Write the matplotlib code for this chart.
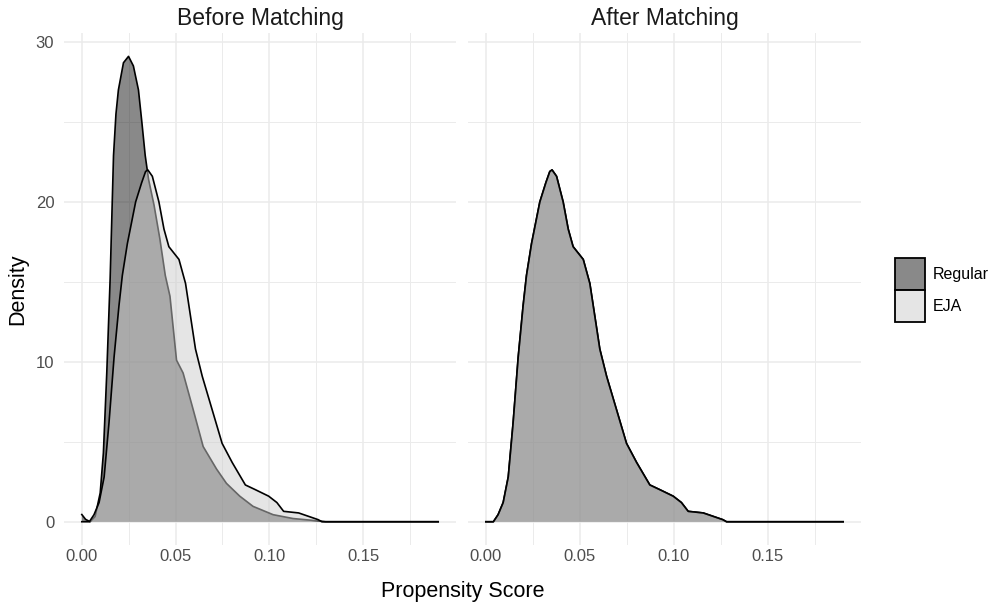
import matplotlib
matplotlib.use("Agg")
import matplotlib.pyplot as plt
from matplotlib.patches import Patch
from matplotlib.colors import to_rgba
from matplotlib.ticker import MultipleLocator

plt.rcParams['font.family'] = ['Liberation Sans', 'DejaVu Sans']

# ---- data ----
facets = ["Before Matching", "After Matching"]
groups = ["Regular", "EJA"]

before_regular_x = [0.000, 0.002, 0.0044, 0.0071, 0.0098, 0.0115, 0.0133, 0.0151, 0.0169, 0.0182,
                    0.0195, 0.0222, 0.0249, 0.0275, 0.0302, 0.0320, 0.0338, 0.0356, 0.0385, 0.0416,
                    0.0445, 0.0470, 0.0505, 0.0540, 0.0594, 0.0647, 0.0718, 0.0771, 0.0842, 0.0913,
                    0.1020, 0.1126, 0.1235, 0.1300, 0.1900]
before_regular_y = [0.45, 0.15, 0.0, 0.33, 1.8, 4.3, 9.3, 15.2, 22.9, 25.5,
                    27.0, 28.7, 29.1, 28.5, 27.0, 25.0, 22.9, 21.4, 19.8, 17.7,
                    15.4, 14.1, 10.1, 9.3, 7.0, 4.7, 3.3, 2.4, 1.6, 0.96,
                    0.44, 0.2, 0.08, 0.0, 0.0]

before_eja_x = [0.000, 0.0040, 0.0065, 0.0092, 0.0119, 0.0145, 0.0172, 0.0198, 0.0216, 0.0243,
                0.0287, 0.0319, 0.0340, 0.0352, 0.0376, 0.0411, 0.0438, 0.0464, 0.0518, 0.0553,
                0.0606, 0.0642, 0.0695, 0.0748, 0.0802, 0.0872, 0.0926, 0.0996, 0.1040, 0.1076,
                0.1156, 0.1260, 0.1280, 0.1900]
before_eja_y = [0.0, 0.0, 0.44, 1.2, 2.8, 6.2, 10.3, 13.5, 15.4, 17.4,
                20.0, 21.2, 21.9, 22.0, 21.6, 20.0, 18.3, 17.2, 16.4, 14.9,
                10.8, 9.1, 7.0, 4.9, 3.7, 2.3, 2.0, 1.6, 1.2, 0.65,
                0.55, 0.13, 0.0, 0.0]

after_x = [0.000, 0.0040, 0.0065, 0.0092, 0.0119, 0.0145, 0.0172, 0.0198, 0.0216, 0.0243,
           0.0287, 0.0319, 0.0340, 0.0352, 0.0376, 0.0411, 0.0438, 0.0464, 0.0518, 0.0553,
           0.0606, 0.0642, 0.0695, 0.0748, 0.0802, 0.0872, 0.0926, 0.0996, 0.1040, 0.1076,
           0.1156, 0.1260, 0.1280, 0.1900]
after_regular_y = [0.0, 0.0, 0.44, 1.2, 2.8, 6.2, 10.3, 13.5, 15.4, 17.4,
                   20.0, 21.2, 21.9, 22.0, 21.6, 20.0, 18.3, 17.2, 16.4, 14.9,
                   10.8, 9.1, 7.0, 4.9, 3.7, 2.3, 2.0, 1.6, 1.2, 0.65,
                   0.55, 0.13, 0.0, 0.0]
after_eja_y = [0.0, 0.0, 0.44, 1.2, 2.8, 6.2, 10.3, 13.5, 15.4, 17.4,
               20.0, 21.2, 21.9, 22.0, 21.6, 20.0, 18.3, 17.2, 16.4, 14.9,
               10.8, 9.1, 7.0, 4.9, 3.7, 2.3, 2.0, 1.6, 1.2, 0.65,
               0.55, 0.13, 0.0, 0.0]

x_ticks = [0.00, 0.05, 0.10, 0.15]
x_tick_labels = ["0.00", "0.05", "0.10", "0.15"]
y_ticks = [0, 10, 20, 30]

# ---- style ----
fill_colors = {"Regular": "#141414", "EJA": "#cccccc"}
alpha = 0.5
grid_col = "#ebebeb"

W, H = 999, 608
fig = plt.figure(figsize=(W / 100, H / 100), dpi=100)
panel_bottom = 1 - 545 / H
panel_h = 512 / H
ax1 = fig.add_axes([64 / W, panel_bottom, 392 / W, panel_h])
ax2 = fig.add_axes([468 / W, panel_bottom, 393 / W, panel_h])

panel_data = [
    [("Regular", before_regular_x, before_regular_y), ("EJA", before_eja_x, before_eja_y)],
    [("Regular", after_x, after_regular_y), ("EJA", after_x, after_eja_y)],
]

for ax, title, series in zip([ax1, ax2], facets, panel_data):
    for name, xs, ys in series:
        ax.fill_between(xs, 0, ys, facecolor=fill_colors[name], alpha=alpha,
                        linewidth=0, zorder=2)
        ax.plot(xs, ys, color="black", linewidth=1.2, zorder=2, solid_joinstyle="round")
    ax.set_xlim(-0.0095, 0.1995)
    ax.set_ylim(-1.455, 30.56)
    ax.set_xticks(x_ticks)
    ax.set_xticklabels(x_tick_labels)
    ax.xaxis.set_minor_locator(MultipleLocator(0.025))
    ax.set_yticks(y_ticks)
    ax.yaxis.set_minor_locator(MultipleLocator(5))
    ax.grid(True, which="major", color=grid_col, linewidth=1.1, zorder=0)
    ax.grid(True, which="minor", color=grid_col, linewidth=0.7, zorder=0)
    ax.set_axisbelow(True)
    for s in ax.spines.values():
        s.set_visible(False)
    ax.tick_params(axis="both", which="both", length=0, labelsize=12, labelcolor="#4d4d4d")
    ax.tick_params(axis="x", pad=3)
    ax.tick_params(axis="y", pad=7)
    ax.set_title(title, fontsize=16.5, color="#1a1a1a", pad=6)

ax2.tick_params(axis="y", labelleft=False)

fig.text((64 + 861) / 2 / W, 1 - 591 / H, "Propensity Score", ha="center", va="center",
         fontsize=15.5, color="black")
fig.text(18 / W, 1 - 289 / H, "Density", ha="center", va="center", rotation=90,
         fontsize=15.5, color="black")

handles = [Patch(facecolor=to_rgba(fill_colors[g], alpha), edgecolor="black", linewidth=1.3, label=g)
           for g in groups]
fig.legend(handles=handles, loc="center left", bbox_to_anchor=(890 / W, 1 - 290 / H),
           frameon=False, fontsize=11.5, handlelength=1.9, handleheight=2.7,
           labelspacing=0.0, handletextpad=0.5, borderaxespad=0, borderpad=0.3)

fig.savefig("out.png", dpi=100)
